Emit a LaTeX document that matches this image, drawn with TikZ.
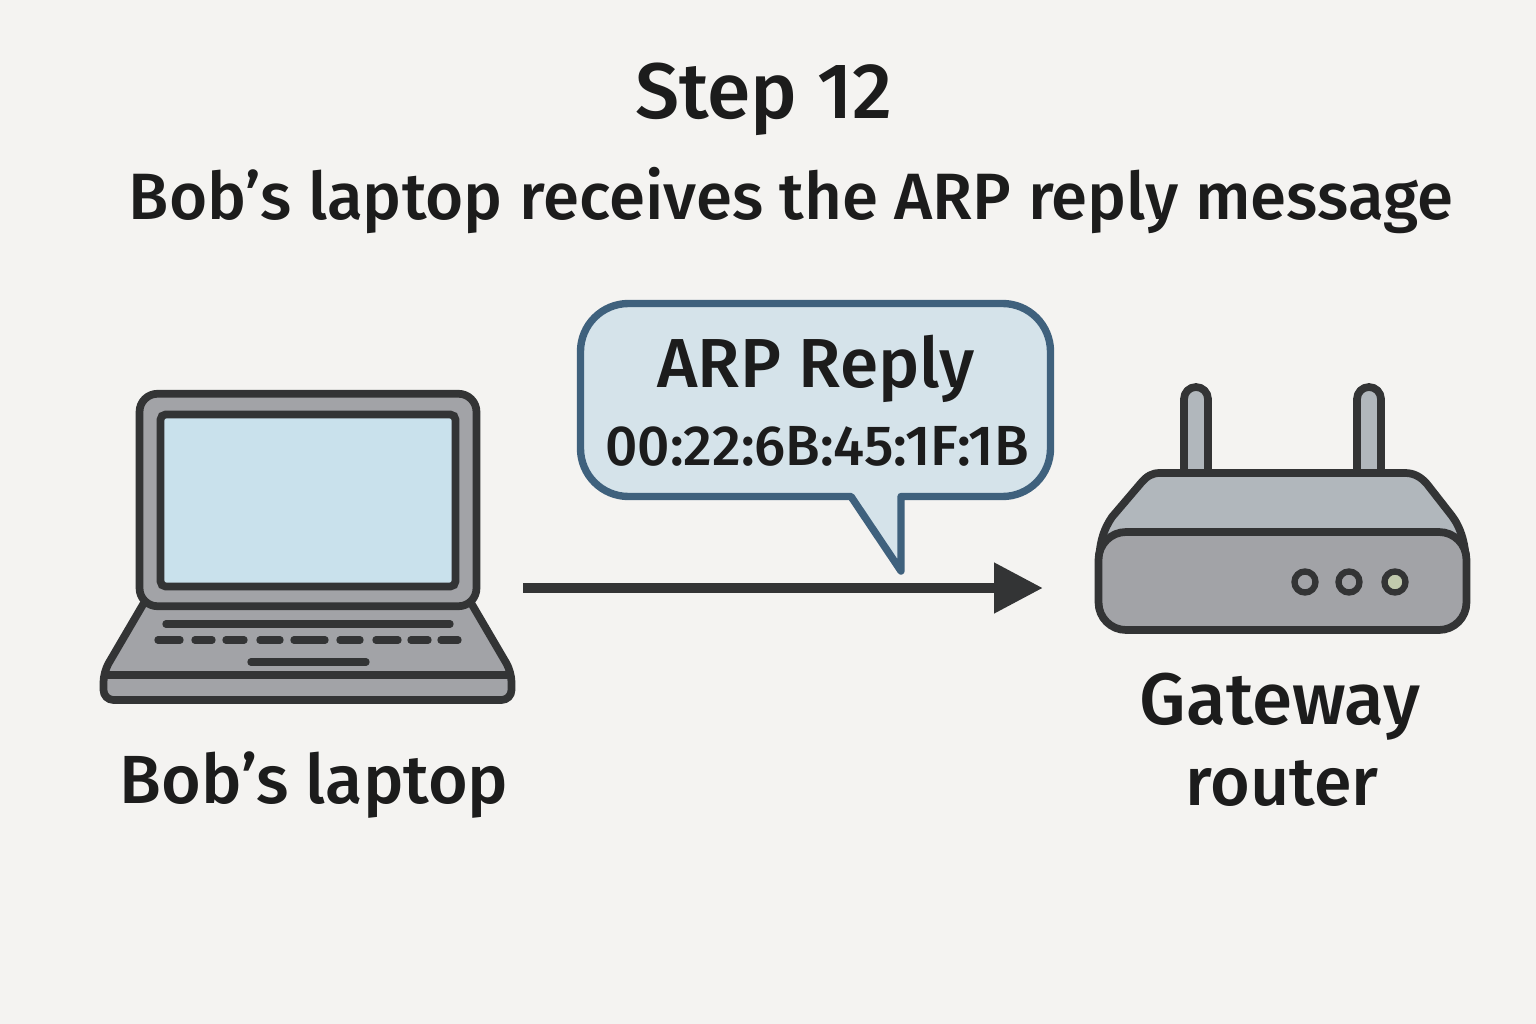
\documentclass[tikz,border=0pt]{standalone}
\usepackage{fontspec}
\setmainfont{Fira Sans}[BoldFont={Fira Sans Medium}]
\usetikzlibrary{arrows.meta, positioning, calc}

\definecolor{paper}{HTML}{F4F3F1}
\definecolor{ink}{HTML}{1C1C1C}
\definecolor{outline}{HTML}{333435}
\definecolor{metal}{HTML}{A2A3A7}
\definecolor{metallight}{HTML}{B1B7BC}
\definecolor{display}{HTML}{C9E1EC}
\definecolor{bubblefill}{HTML}{D5E3EA}
\definecolor{bubbleline}{HTML}{3F617D}
\definecolor{ledgreen}{HTML}{C1CAAD}

\tikzset{
  shell/.style={draw=outline, fill=metal, line width=4.4pt, line join=round},
  keybar/.style={draw=outline, line width=4.2pt, line cap=round},
  led/.style={circle, draw=outline, fill=metal, line width=3.6pt, minimum size=0.42cm, inner sep=0pt},
  label/.style={font=\bfseries\fontsize{#1}{#1}\selectfont, text=ink, inner sep=0pt, anchor=base},
}

\begin{document}
\begin{tikzpicture}[x=0.02cm, y=-0.02cm]
            \useasboundingbox[fill=paper] (0,0) rectangle (1536,1024);

            % titles
            \node[label=44.8pt] (title) at (764,119) {Step 12};
            \node[label=37.3pt] (subtitle) at (791,219) {Bob’s laptop receives the ARP reply message};

            % laptop
            \draw[shell, rounded corners=0.2cm] (148,596) -- (103.5,672) -- (103.5,700) -- (511.5,700) -- (511.5,672) -- (467,596) -- cycle;
            \draw[outline, line width=4.4pt] (103.5,675) -- (511.5,675);
            \node[shell, rounded corners=0.36cm, minimum width=6.74cm, minimum height=4.25cm] (lid) at (308,500) {};
            \node[draw=outline, fill=display, line width=4.4pt, rounded corners=0.1cm, minimum width=5.9cm, minimum height=3.44cm] (screen) at (308,500.5) {};
            \draw[keybar] (166,624) -- (450,624);
            \foreach \xa/\xb in {158/180, 195/212, 226/244, 260/280, 294/325, 340/360, 376/398, 411/428, 441/458}
              \draw[keybar] (\xa,640) -- (\xb,640);
            \draw[keybar] (251,662) -- (366,662);
            \node[label=38.8pt] (laptoplabel) at (314,803) {Bob’s laptop};

            % message
            \coordinate (laptopport) at (523,588);
            \coordinate (routerport) at (1043,588);
            \draw[-{Triangle[length=0.98cm, width=0.96cm]}, outline, line width=6.2pt] (laptopport) -- (routerport);
            \draw[draw=bubbleline, fill=bubblefill, line width=4.2pt, line join=round]
              (851,496.5) [rounded corners=0.96cm] -- (580.5,496.5) -- (580.5,303.5) -- (1050.5,303.5) -- (1050.5,496.5) [sharp corners] -- (901,496.5) -- (901,571) -- cycle;
            \node[label=39.5pt] (arptitle) at (816,387) {ARP Reply};
            \node[label=32.2pt] (arpaddr) at (817,465) {00:22:6B:45:1F:1B};

            % router
            \foreach \xa in {1196, 1369}
              \draw[shell, fill=metallight, rounded corners=0.24cm] (\xa-12,473) -- (\xa-12,387) -- (\xa+12,387) -- (\xa+12,473);
            \draw[shell, fill=metallight] (1099,565) .. controls (1099,545) and (1103,530) .. (1112,517) -- (1141,483)
              .. controls (1147,476) and (1152,473) .. (1160,473) -- (1405,473) .. controls (1414,473) and (1421,477) .. (1427,484)
              -- (1452,516) .. controls (1461,528) and (1466,545) .. (1466,565) -- cycle;
            \node[shell, rounded corners=0.55cm, minimum width=7.36cm, minimum height=1.96cm] (front) at (1282.5,581) {};
            \node[led] (leda) at (1305,582) {};
            \node[led] (ledb) at (1349,582) {};
            \node[led, fill=ledgreen] (ledc) at (1395,582) {};
            \node[label=41.5pt] (routerlabela) at (1280,724) {Gateway};
            \node[label=38.8pt] (routerlabelb) at (1282,805) {router};
        \end{tikzpicture}
\end{document}
